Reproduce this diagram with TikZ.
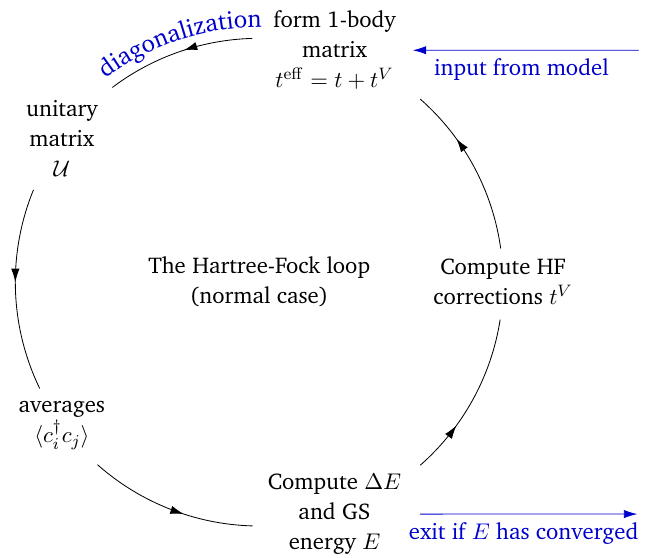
\documentclass[12pt,tikz,border=0pt]{standalone}
\usepackage[T1]{fontenc}
\usepackage{charter}
\usetikzlibrary{arrows.meta,decorations.markings,decorations.text}
\begin{document}
\begin{tikzpicture}[font=\fontsize{11}{14.5}\selectfont, line join=round, line cap=round, >={Latex[length=6.5pt,width=4pt]},
  stage/.style={align=center},
  note/.style={blue!80!black},
  looparc/.style={decoration={markings,mark=at position #1 with {\arrow{>}}},postaction={decorate}}]
  \def\R{4.14}
  \useasboundingbox (-4.40,-4.67) rectangle (6.55,4.79);
  \coordinate (c) at (0,0);
  % the five steps, one every 72 degrees
  \node[stage] (hf) at (0:\R) {Compute HF\\corrections $t^V$};
  \node[stage] (form) at (72:\R) {form 1-body\\matrix\\$t^{\mathrm{eff}}=t+t^V$};
  \node[stage] (unitary) at (144:\R) {unitary\\matrix\\$\mathcal{U}$};
  \node[stage] (averages) at (216:\R) {averages\\$\langle c_i^\dagger c_j\rangle$};
  \node[stage] (energy) at (288:\R) {Compute $\Delta E$\\and GS\\energy $E$};
  \node[stage] (title) at (c) {The Hartree-Fock loop\\(normal case)};
  % arcs of the loop, arrow half way between two steps
  \foreach \s/\m/\e in {8/36/48.6, 91.7/108/127, 157.8/180/205.8, 228.5/252/268.4, 311.4/324/351.1}{
    \pgfmathsetmacro\p{(\m-\s)/(\e-\s)}
    \draw[looparc=\p] (c) ++(\s:\R) arc[start angle=\s, end angle=\e, radius=\R];
  }
  \path[decorate,decoration={text along path,text align=center,
    text={|\color{blue!80!black}|diagonalization}}]
    (c) ++(128:4.33) arc[start angle=128, end angle=88.5, radius=4.33];
  % in and out
  \coordinate (in) at (6.44,3.937);
  \coordinate (out) at (6.42,-3.937);
  \draw[note,->,shorten >=4pt] (in) -- (form) node[midway,below] {input from model};
  \draw[note,->,shorten <=5pt] (energy) -- (out) node[midway,below] {exit if $E$ has converged};
\end{tikzpicture}
\end{document}
